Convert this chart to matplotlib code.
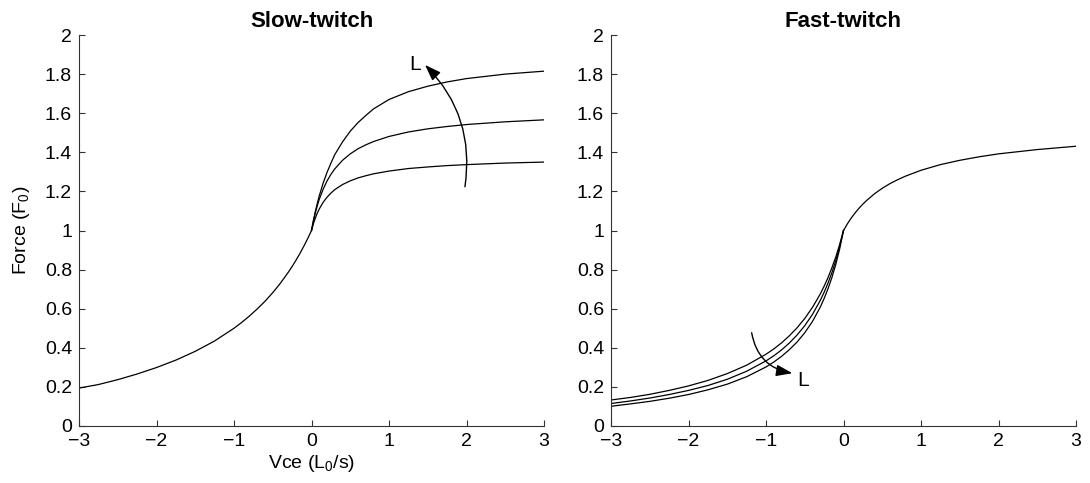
import numpy as np
import matplotlib
matplotlib.use("Agg")
import matplotlib.pyplot as plt

plt.rcParams['font.family'] = ['Liberation Sans', 'DejaVu Sans']
plt.rcParams['mathtext.fontset'] = 'custom'
plt.rcParams['mathtext.rm'] = 'Liberation Sans'

# shortening side (Vce < 0)
v_short = [-3.0, -2.75, -2.5, -2.25, -2.0, -1.75, -1.5, -1.25, -1.0, -0.9, -0.8,
           -0.7, -0.6, -0.5, -0.4, -0.3, -0.25, -0.2, -0.15, -0.1, -0.05, 0.0]
slow_short = [0.194, 0.212, 0.237, 0.266, 0.299, 0.337, 0.382, 0.435, 0.500, 0.530, 0.563,
              0.599, 0.638, 0.682, 0.731, 0.786, 0.816, 0.848, 0.882, 0.919, 0.958, 1.0]
fast_short_hi = [0.133, 0.146, 0.162, 0.182, 0.205, 0.233, 0.268, 0.311, 0.367, 0.394, 0.425,
                 0.461, 0.502, 0.550, 0.607, 0.675, 0.715, 0.759, 0.809, 0.864, 0.928, 1.0]
fast_short_mid = [0.115, 0.128, 0.143, 0.161, 0.182, 0.207, 0.239, 0.280, 0.333, 0.359, 0.389,
                  0.424, 0.465, 0.513, 0.571, 0.642, 0.684, 0.731, 0.784, 0.846, 0.917, 1.0]
fast_short_lo = [0.101, 0.113, 0.126, 0.142, 0.161, 0.185, 0.214, 0.252, 0.302, 0.327, 0.356,
                 0.390, 0.429, 0.477, 0.535, 0.608, 0.652, 0.702, 0.759, 0.826, 0.905, 1.0]

# lengthening side (Vce > 0)
v_long = [0.0, 0.025, 0.05, 0.075, 0.1, 0.15, 0.2, 0.25, 0.3, 0.4, 0.5,
          0.6, 0.7, 0.8, 1.0, 1.25, 1.5, 1.75, 2.0, 2.5, 3.0]
slow_long_hi = [1.0, 1.052, 1.098, 1.139, 1.177, 1.242, 1.297, 1.344, 1.388, 1.453, 1.508,
                1.552, 1.588, 1.622, 1.670, 1.710, 1.738, 1.760, 1.777, 1.800, 1.815]
slow_long_mid = [1.0, 1.049, 1.091, 1.127, 1.159, 1.211, 1.253, 1.287, 1.315, 1.359, 1.392,
                 1.418, 1.438, 1.455, 1.481, 1.504, 1.520, 1.532, 1.542, 1.556, 1.566]
slow_long_lo = [1.0, 1.035, 1.064, 1.089, 1.110, 1.144, 1.170, 1.191, 1.209, 1.235, 1.254,
                1.269, 1.280, 1.290, 1.304, 1.317, 1.325, 1.332, 1.337, 1.345, 1.350]
fast_long = [1.0, 1.017, 1.034, 1.049, 1.064, 1.090, 1.114, 1.135, 1.154, 1.188, 1.216,
             1.240, 1.260, 1.278, 1.308, 1.337, 1.359, 1.377, 1.392, 1.414, 1.431]

xticks = [-3, -2, -1, 0, 1, 2, 3]
yticks = [0, 0.2, 0.4, 0.6, 0.8, 1, 1.2, 1.4, 1.6, 1.8, 2]
ytick_labels = ['0', '0.2', '0.4', '0.6', '0.8', '1', '1.2', '1.4', '1.6', '1.8', '2']

fig = plt.figure(figsize=(10.9, 4.83), dpi=100)
ax1 = fig.add_axes([79/1090, 57/483, 465/1090, 391/483])
ax2 = fig.add_axes([611/1090, 57/483, 465/1090, 391/483])

lc = 'k'
lw = 0.9
ax1.plot(v_short, slow_short, color=lc, lw=lw)
for f in (slow_long_hi, slow_long_mid, slow_long_lo):
    ax1.plot(v_long, f, color=lc, lw=lw)

ax2.plot(v_long, fast_long, color=lc, lw=lw)
for f in (fast_short_hi, fast_short_mid, fast_short_lo):
    ax2.plot(v_short, f, color=lc, lw=lw)

for ax in (ax1, ax2):
    ax.set_xlim(-3, 3)
    ax.set_ylim(0, 2)
    ax.set_xticks(xticks)
    ax.set_yticks(yticks)
    ax.set_yticklabels(ytick_labels)
    ax.spines['top'].set_visible(False)
    ax.spines['right'].set_visible(False)
    for s in ('left', 'bottom'):
        ax.spines[s].set_color('#333333')
        ax.spines[s].set_linewidth(0.8)
    ax.tick_params(direction='in', length=4, width=0.8, color='#333333',
                   labelsize=14, pad=5)

ax1.set_title('Slow-twitch', fontsize=16, fontweight='bold', pad=6)
ax2.set_title('Fast-twitch', fontsize=16, fontweight='bold', pad=6)
ax1.set_xlabel('Vce (L$_0$/s)', fontsize=14, labelpad=2)
ax1.set_ylabel('Force (F$_0$)', fontsize=14, labelpad=9)

arrow = dict(arrowstyle='-|>,head_length=0.7,head_width=0.25', color='k',
             lw=1.0, mutation_scale=14, shrinkA=0, shrinkB=0)
ax1.annotate('', xy=(1.465, 1.847), xytext=(1.98, 1.224),
             arrowprops=dict(connectionstyle='arc3,rad=0.25', **arrow))
ax1.text(1.33, 1.847, 'L', fontsize=15, ha='center', va='center')

ax2.annotate('', xy=(-0.66, 0.27), xytext=(-1.185, 0.477),
             arrowprops=dict(connectionstyle='arc3,rad=0.35', **arrow))
ax2.text(-0.516, 0.235, 'L', fontsize=15, ha='center', va='center')

fig.savefig('out.png', dpi=100)
